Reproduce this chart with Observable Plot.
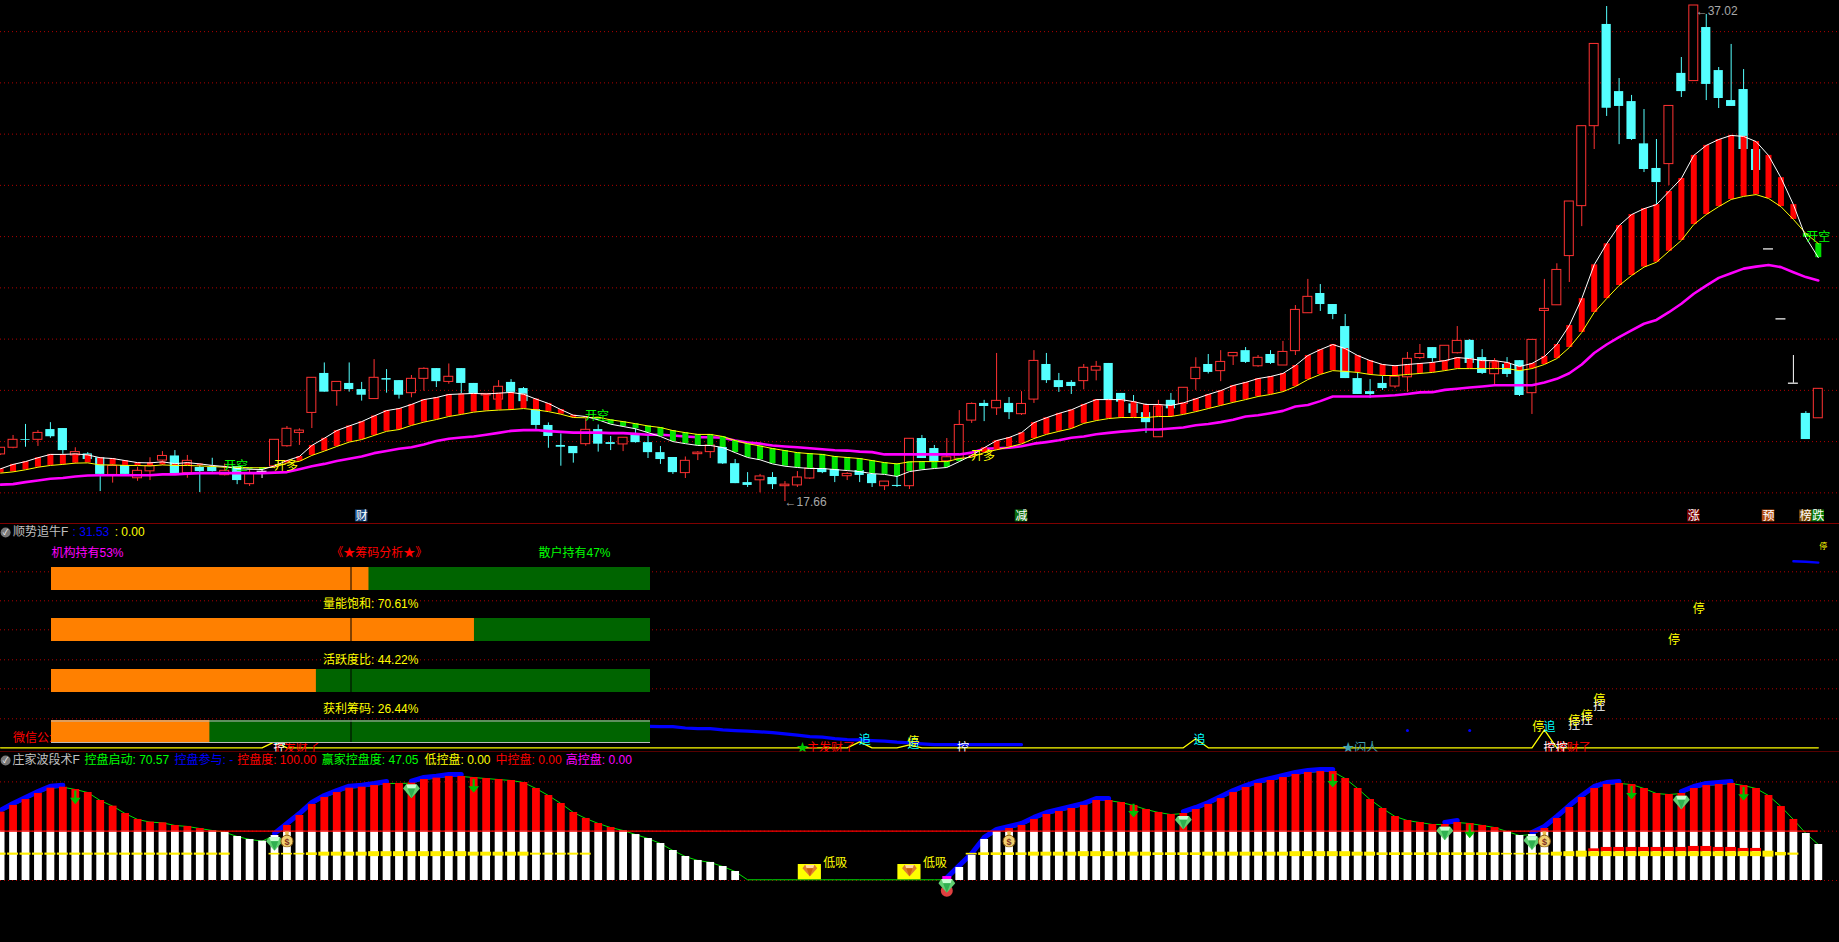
<!DOCTYPE html>
<html><head><meta charset="utf-8">
<style>html,body{margin:0;padding:0;background:#000;overflow:hidden}#chart{position:relative;width:1839px;height:942px;background:#000}#chart svg{position:absolute;left:0;display:block}</style>
<script src="https://cdn.jsdelivr.net/npm/d3@7"></script>
<script src="https://cdn.jsdelivr.net/npm/@observablehq/plot@0.6"></script>
</head><body><div id="chart"></div>
<script>
const opens=[19.50,19.76,20.08,20.07,20.47,20.51,19.46,19.52,19.37,18.70,
19.07,18.57,18.84,19.26,19.44,18.77,18.99,18.99,18.69,19.03,
18.34,18.84,19.03,19.82,20.34,21.12,22.66,21.97,22.27,22.03,
21.66,22.46,22.38,21.89,22.45,22.85,22.33,22.85,22.27,21.80,
21.64,22.31,22.07,21.25,20.63,19.85,19.81,19.90,20.47,19.96,
19.89,20.29,19.96,19.57,19.38,18.77,19.51,19.59,19.77,19.14,
18.40,18.49,18.60,18.26,18.29,18.56,18.95,18.91,18.65,18.87,
18.72,18.26,18.29,18.26,20.12,19.73,19.23,19.33,20.82,21.49,
21.30,21.49,21.07,21.64,23.01,22.38,22.31,22.36,22.77,23.05,
21.88,21.47,21.13,20.17,21.61,21.47,22.44,23.01,22.75,23.33,
23.55,22.94,23.40,22.97,23.53,25.01,25.78,25.35,24.49,22.46,
21.95,22.27,22.15,22.51,23.26,23.67,23.14,23.45,23.95,23.28,
22.63,23.01,23.16,21.89,25.10,25.32,27.24,29.19,32.31,36.28,
33.66,33.27,31.62,30.66,30.83,34.37,34.07,36.16,34.48,33.31,
33.74,31.40,27.52,24.79,22.28,21.10,20.91];
const closes=[19.76,20.07,20.05,20.34,20.19,19.65,19.59,19.30,18.72,19.05,
18.72,18.86,19.05,19.44,18.74,19.25,18.83,18.83,18.86,18.48,
18.74,18.84,20.07,20.50,20.43,22.49,21.93,22.33,22.03,21.81,
22.49,22.40,21.81,22.45,22.84,22.34,22.53,22.27,21.86,21.86,
22.14,21.92,21.56,20.63,20.20,19.78,19.53,20.46,19.90,19.89,
20.15,19.96,19.57,19.30,18.79,19.25,19.57,19.85,19.13,18.36,
18.29,18.64,18.32,18.32,18.60,18.95,18.79,18.64,18.74,18.68,
18.36,18.44,18.25,20.11,19.34,19.21,19.39,20.65,21.47,21.37,
21.59,21.13,21.47,23.15,22.38,22.11,22.15,22.88,22.92,21.61,
21.54,21.10,20.74,21.37,21.28,22.10,22.88,22.70,23.11,23.46,
23.09,23.27,23.05,23.50,25.14,25.65,25.35,24.96,22.46,21.84,
21.84,22.07,22.53,23.23,23.42,23.24,23.74,23.93,23.05,22.66,
23.09,22.62,21.80,23.97,25.18,26.70,29.37,32.31,35.52,33.01,
33.08,31.79,30.62,30.11,33.10,33.66,37.02,33.94,33.39,33.08,
31.40,30.58,27.52,24.79,22.28,20.08,22.06];
const highs=[19.76,20.24,20.67,20.43,20.74,20.51,19.76,19.57,19.37,19.11,
19.07,19.00,19.37,19.61,19.65,19.46,19.13,19.35,19.13,19.03,
18.94,18.94,20.07,20.59,20.50,22.49,23.07,22.33,23.07,22.31,
23.20,22.81,22.38,22.58,22.88,22.85,23.03,22.85,22.27,21.86,
22.38,22.42,22.11,21.67,20.73,20.30,19.81,20.89,20.65,20.20,
20.15,20.50,20.24,19.81,19.38,19.40,19.61,19.98,20.17,19.30,
18.79,18.72,18.79,18.44,18.83,19.52,18.95,19.07,18.79,18.95,
18.87,18.44,18.79,20.11,20.24,19.85,20.12,21.21,21.51,21.61,
23.44,21.72,21.95,23.55,23.44,22.66,22.38,23.01,23.13,23.05,
21.88,21.80,21.47,21.61,21.88,22.10,23.27,23.40,23.55,23.46,
23.67,23.36,23.55,23.91,25.31,26.33,26.13,25.35,24.96,22.70,
22.42,22.54,22.53,23.48,23.79,23.67,23.74,24.49,23.98,23.59,
23.24,23.28,23.16,23.97,26.33,26.94,29.37,32.31,35.52,36.98,
34.17,33.51,32.96,31.79,33.10,34.99,37.02,36.67,34.60,35.50,
34.52,31.40,27.52,24.79,23.36,21.17,22.06];
const lows=[19.46,19.72,19.78,19.81,20.13,19.50,19.13,19.20,18.05,18.38,
18.72,18.45,18.48,19.07,18.74,18.57,18.01,18.81,18.66,18.32,
18.25,18.56,18.94,19.78,19.85,20.51,21.93,21.38,21.93,21.58,
21.66,21.89,21.66,21.71,21.97,22.11,22.24,21.86,21.86,21.80,
21.64,21.86,21.56,20.43,19.74,19.04,19.16,19.82,19.59,19.65,
19.61,19.94,19.34,19.11,18.72,18.56,19.26,19.34,19.11,18.36,
18.21,18.00,18.13,17.66,18.21,18.52,18.75,18.40,18.48,18.40,
18.21,18.09,18.21,18.13,19.34,19.18,19.07,19.26,20.71,20.78,
21.02,20.86,21.02,21.49,22.27,21.92,21.84,22.02,22.37,21.61,
21.54,21.02,20.32,20.17,20.95,21.08,22.00,22.64,22.34,22.97,
23.05,22.90,23.01,22.97,23.36,25.01,25.08,24.76,22.46,21.84,
21.68,22.00,22.07,21.92,23.20,23.09,22.90,23.42,23.05,22.62,
22.19,22.50,21.76,21.06,23.32,25.32,26.21,28.39,31.40,32.69,
31.59,31.75,30.50,29.25,29.99,33.43,34.07,33.31,33.00,33.08,
31.40,30.58,27.52,24.79,22.28,20.08,20.91];
const fastLine=[18.94,19.11,19.22,19.37,19.50,19.50,19.52,19.48,19.37,19.34,
19.26,19.18,19.17,19.21,19.14,19.18,19.13,19.07,19.03,18.95,
18.92,18.91,19.05,19.26,19.42,19.85,20.13,20.43,20.61,20.78,
21.00,21.21,21.29,21.45,21.64,21.72,21.84,21.86,21.88,21.86,
21.89,21.92,21.85,21.66,21.49,21.25,21.03,20.98,20.85,20.68,
20.59,20.50,20.35,20.20,20.00,19.92,19.85,19.85,19.77,19.57,
19.38,19.29,19.13,19.04,18.99,18.95,18.95,18.91,18.87,18.83,
18.75,18.72,18.64,18.83,18.90,18.95,18.99,19.22,19.46,19.76,
20.04,20.16,20.35,20.74,20.93,21.10,21.24,21.45,21.64,21.64,
21.64,21.56,21.45,21.45,21.41,21.51,21.67,21.84,21.99,22.19,
22.31,22.46,22.54,22.66,22.97,23.36,23.59,23.79,23.63,23.36,
23.16,23.01,22.96,23.01,23.05,23.09,23.16,23.28,23.24,23.16,
23.16,23.09,22.93,23.05,23.32,23.79,24.53,25.58,26.90,27.72,
28.43,28.86,29.09,29.25,29.76,30.27,31.17,31.56,31.79,31.95,
31.91,31.71,31.17,30.30,29.25,27.97,27.18];
const slowLine=[18.77,18.82,18.90,19.00,19.07,19.11,19.16,19.17,19.09,19.09,
19.07,19.07,19.05,19.09,19.07,19.07,19.05,19.03,19.00,19.00,
18.98,18.98,19.00,19.16,19.23,19.46,19.63,19.81,19.98,20.08,
20.24,20.40,20.47,20.63,20.76,20.86,20.98,21.06,21.15,21.20,
21.23,21.25,21.29,21.24,21.17,21.07,20.94,20.93,20.95,20.85,
20.78,20.70,20.61,20.55,20.43,20.35,20.28,20.28,20.20,20.04,
19.92,19.83,19.73,19.65,19.57,19.53,19.50,19.42,19.38,19.34,
19.26,19.18,19.13,19.21,19.22,19.22,19.22,19.34,19.39,19.57,
19.68,19.79,19.91,20.12,20.28,20.40,20.51,20.71,20.82,20.90,
20.94,20.94,20.94,20.98,20.98,21.06,21.17,21.29,21.41,21.53,
21.64,21.76,21.84,21.95,22.15,22.42,22.62,22.77,22.74,22.70,
22.62,22.58,22.58,22.62,22.66,22.70,22.77,22.85,22.85,22.85,
22.85,22.85,22.77,22.85,23.01,23.24,23.67,24.26,25.04,25.58,
26.09,26.48,26.81,27.00,27.43,27.85,28.47,28.86,29.17,29.45,
29.57,29.64,29.49,29.17,28.67,28.12,27.73];
const lifeLine=[18.32,18.34,18.42,18.48,18.55,18.58,18.64,18.68,18.69,18.69,
18.69,18.69,18.69,18.72,18.72,18.75,18.77,18.77,18.77,18.77,
18.77,18.77,18.79,18.81,18.92,19.04,19.13,19.24,19.33,19.42,
19.55,19.63,19.72,19.78,19.89,20.02,20.11,20.16,20.20,20.27,
20.34,20.42,20.45,20.45,20.41,20.38,20.35,20.35,20.35,20.33,
20.33,20.30,20.27,20.27,20.24,20.20,20.17,20.17,20.15,20.04,
19.96,19.92,19.85,19.81,19.78,19.74,19.70,19.66,19.65,19.61,
19.59,19.50,19.50,19.50,19.50,19.50,19.50,19.50,19.57,19.72,
19.74,19.76,19.82,19.92,19.98,20.05,20.15,20.20,20.29,20.34,
20.39,20.43,20.47,20.47,20.51,20.55,20.64,20.69,20.76,20.85,
20.98,21.03,21.11,21.20,21.37,21.43,21.58,21.76,21.76,21.76,
21.76,21.78,21.81,21.86,21.92,21.93,22.02,22.06,22.11,22.15,
22.20,22.20,22.20,22.20,22.31,22.45,22.67,23.01,23.46,23.79,
24.08,24.34,24.60,24.75,25.05,25.38,25.77,26.09,26.39,26.57,
26.75,26.83,26.89,26.81,26.61,26.42,26.29];
const priceGrid=[18,20,22,24,26,28,30,32,34,36];
const openLabels=[["开空",18.9,19.03,"#00ff00"],["开多",22.93,19.04,"#ffff00"],["开空",47.9,20.98,"#00ff00"],["开多",78.9,19.43,"#ffff00"],["开空",146,27.98,"#00ff00"]];
const tagLabels=[["财",29,"#1a4a80"],["减",82,"#0b6b0b"],["涨",136,"#7a0000"],["预",142,"#b04a10"],["榜",145,"#7a4a00"],["跌",146,"#0a7a0a"]];
const extremes=[["←17.66",62.97,17.62],["←37.02",136.15,36.8]];

const gaugeNames=["机构持有","量能饱和","活跃度比","获利筹码"];
const gaugeValues=[53,70.61,44.22,26.44];
const trendYellow=Array.from({length:147},(_, i)=>({22:3,69:3,73:1.5,96:4.5,124:9})[i]||0);
const blueStart=52;
const blueValues=[10.7,10.6,10.6,9.9,9.6,9.6,9,8.6,8.3,8,7.6,7,6.3,5.6,5.3,4.6,4.1,4,3.6,3.3,2.8,2.5,2,1.6,1.6,1.6,1.6,1.6,1.6,1.6,1.6];
const blueTail=[[144,93.3],[145,93],[146,92.6]];
const blueDots=[[113,8.6],[118,8.6]];
const panelGrid=[14.5,29.5,44,59,73.5,88];
const signals=[["微信公众号: 股票公式",5.6,4.6,"#ff0000"],
["追",22.4,3.6,"#00ffff"],["主发财了",23.7,0,"#ff0000"],["控",22.4,0,"#ffffff"],
["★",64.4,0,"#00cc00"],["主发财了",66.7,0,"#ff0000"],["追",69.4,3.6,"#00ffff"],["追",73.3,2,"#00ffff"],["停",73.3,3,"#ffff00"],["控",77.3,0,"#ffffff"],
["追",96.3,3.6,"#00ffff"],["★闪人",109.2,0,"#40a0b0"],
["停",123.5,10.2,"#ffff00"],["追",124.4,10.2,"#00ffff"],["主发财了",125.8,0,"#ff0000"],["控",124.4,0,"#ffffff"],["控",125.4,0,"#ffffff"],
["控",126.4,11.2,"#ffffff"],["停",126.4,13.2,"#ffff00"],["控",127.4,13.7,"#ffffff"],["停",127.4,16,"#ffff00"],["控",128.4,21,"#ffffff"],["停",128.4,23.6,"#ffff00"],
["停",134.4,53.6,"#ffff00"],["停",136.4,69.2,"#ffff00"]];

const waveValues=[69.3,76.1,82.1,88.2,93.6,94.6,92.3,89.2,81.1,75.4,
67.9,61.9,59.2,58.5,55.8,54.8,52.7,50.7,49,44.6,
41.6,39.9,45.6,55.8,65.9,77.1,84.2,89.2,93.6,94.6,
96.3,98.4,98.4,98.7,102.4,103.8,105.5,105.5,104.4,103.4,
102.4,101.4,99.4,93.3,86.2,78.1,69,62.9,57.8,53.7,
50.7,46.6,42.6,37.5,30.4,24.3,20.3,18.3,14.2,9.1,
0.7,0.7,0.7,0.7,0.7,0.7,0.7,0.7,0.7,0.7,
0.7,0.7,0.7,0.7,0.7,0.7,0.7,13.2,25.4,41.6,
49.7,52.7,55.8,61.9,66.9,70,73,76.1,81.1,81.1,
79.1,76.1,72,69,66.9,67.9,72,77.1,83.1,89.2,
94.3,98.4,101.4,104.4,107.5,109.5,110.5,110.5,103.4,93.3,
82.1,73,64.9,60.8,58.8,56.8,56.8,58.8,57.8,55.8,
53.7,49.7,45.6,46.6,52.7,62.9,74,84.2,93.3,97.3,
98.4,97.3,93.3,88.2,87.2,88.2,93.3,96.3,97.3,98.4,
96.3,93.3,86.2,75,61.9,47.7,36.5];
const risingRanges=[[0,5],[22,31],[33,37],[76,89],[95,107],[116,117],[123,130],[135,139]];
const chipThickness=[2.2,2.2,2.2,2.2,2.2,2.2,2.2,2.2,2.2,2.2,
2.2,2.2,2.2,2.2,2.2,2.2,2.2,2.2,2.2,null,
null,null,1.7,1.7,1.7,2.7,4,4,4,4,
5,5,5,5,5,5,5,5,4,4,
4,4,4,2,2,2,2,2,null,null,
null,null,null,null,null,null,null,null,null,null,
null,null,null,null,null,null,null,null,null,null,
null,null,null,null,null,null,null,null,1.7,2.7,
2.7,2.7,2.7,4,4,4,4,5,5,5,
4,4,4,2.7,2.7,2.7,2.7,4,4,4,
4,4,4,4,5,5,5,5,5,4,
4,2.7,2.7,2.7,2.7,2.7,2.7,2.7,2.7,2.7,
2.7,1.7,1.7,1.7,2,4,5,6,5,5,
5,5,5,5,5,5,5,5,5,5,
5,5,6,3.5,2.2,null,null];
const chipCenter=26.7;
const lockTops={128:32.1,129:33.5,130:33.5,131:33.5,132:33.5,133:33.5,134:33.5,135:33.5,136:34.5,137:34.5,138:33.5,139:33.5,140:32.5,141:32.5};
const lockBase=29.4;
const arrowMarks=[[6,84.5],[33,90.2],[38,96],[91,71],[107,101.4],[118,50],[131,89.2],[140,87.9]];
const gemMarks=[[22,37.2],[33,90.6],[76,-5.4],[95,58.8],[116,47.7],[123,37.9],[135,79.1]];
const bagMarks=[[23,41.9],[81,41.9],[124,41.9]];
const dipMarks=[65,73];
const waveHeader=[["庄家波段术F",0.96,"#c0c0c0"],["控盘启动: 70.57",6.74,"#00ff00"],["控盘参与: -",13.97,"#0000ff"],["控盘度: 100.00",19,"#ff0000"],["赢家控盘度: 47.05",25.8,"#00ff00"],["低控盘: 0.00",34.05,"#ffff00"],["中控盘: 0.00",39.76,"#ff0000"],["高控盘: 0.00",45.4,"#ff00ff"]];
const trendHeader=[["顺势追牛F",1,"#c0c0c0"],[": 31.53",5.78,"#0000ff"],[": 0.00",9.16,"#ffff00"]];

const FONT='"Liberation Sans","Noto Sans CJK SC",sans-serif';
const GRID={stroke:"#b00000",strokeDasharray:"1 3",strokeWidth:1};
const xScale={domain:[0,147],range:[0.1,1830.25],axis:null};
const base={width:1839,marginLeft:0,marginRight:0,marginTop:0,marginBottom:0,style:{background:"transparent",fontFamily:FONT,fontSize:"12px"}};
const uri=s=>"data:image/svg+xml,"+encodeURIComponent(s);
const gem=(a,b,c)=>uri(`<svg xmlns="http://www.w3.org/2000/svg" viewBox="0 0 16 13"><path d="M3 0H13L16 4L8 13L0 4Z" fill="${a}"/><path d="M3 0H13L11.5 4H4.5Z" fill="${b}"/><path d="M4.5 4H11.5L8 13Z" fill="${c}"/></svg>`);
const gemGreen=gem("#60d070","#c8ffd0","#30b050");
const gemOrange=gem("#e08030","#ffd8a0","#d06010");
const bag=uri(`<svg xmlns="http://www.w3.org/2000/svg" viewBox="0 0 14 16"><path d="M5 0H9L8.5 4H5.5Z" fill="#e8c050"/><circle cx="7" cy="10" r="6" fill="#f0d070" stroke="#8a5a10"/><text x="7" y="13.5" font-size="9" font-weight="bold" text-anchor="middle" fill="#803020" font-family="Liberation Sans">$</text></svg>`);
const arrow=uri(`<svg xmlns="http://www.w3.org/2000/svg" viewBox="0 0 10 13"><path d="M4 0H6V7H10L5 13L0 7H4Z" fill="#00c000"/></svg>`);

const bars=d3.range(147).map(i=>({i,o:opens[i],c:closes[i],h:highs[i],l:lows[i],fast:fastLine[i],slow:slowLine[i],life:lifeLine[i],wave:waveValues[i],chip:chipThickness[i],lock:lockTops[i]}));
const up=bars.filter(d=>d.c>d.o),down=bars.filter(d=>d.c<d.o),flat=bars.filter(d=>d.c===d.o);
const txt=(rows,o)=>Plot.text(rows,{text:d=>d[0],x:d=>d[1],y:d=>d[2],fill:d=>d[3],fontSize:12,fontFamily:FONT,...o});
const chart=document.getElementById("chart");
const place=(svg,top)=>{svg.style.top=top+"px";chart.appendChild(svg);};

// price panel
place(Plot.plot({...base,height:524,style:{...base.style,background:"#000"},x:xScale,y:{domain:[16.765,37.215],range:[524,0],axis:null},marks:[
  Plot.ruleY(priceGrid,GRID),
  Plot.ruleX(up,{x:"i",y1:"l",y2:"h",stroke:"#ff3232",strokeWidth:1}),
  Plot.ruleX(down,{x:"i",y1:"l",y2:"h",stroke:"#54ffff",strokeWidth:1}),
  Plot.ruleX(flat,{x:"i",y1:"l",y2:"h",stroke:"#ffffff",strokeWidth:1}),
  Plot.rect(up,{x1:d=>d.i-.36,x2:d=>d.i+.36,y1:"o",y2:"c",fill:"#000",stroke:"#ff3232",strokeWidth:1}),
  Plot.rect(down,{x1:d=>d.i-.37,x2:d=>d.i+.37,y1:"o",y2:"c",fill:"#54ffff"}),
  Plot.ruleY(flat,{y:"c",x1:d=>d.i-.4,x2:d=>d.i+.4,stroke:"#fff",strokeWidth:1.2}),
  Plot.line(bars,{x:"i",y:"life",stroke:"#ff00ff",strokeWidth:2.6}),
  Plot.ruleX(bars.filter(d=>d.fast>=d.slow),{x:"i",y1:"slow",y2:"fast",stroke:"#ff0000",strokeWidth:6}),
  Plot.ruleX(bars.filter(d=>d.fast<d.slow),{x:"i",y1:"slow",y2:"fast",stroke:"#00e000",strokeWidth:6}),
  Plot.line(bars,{x:"i",y:"slow",stroke:"#ffff00",strokeWidth:1}),
  Plot.line(bars,{x:"i",y:"fast",stroke:"#ffffff",strokeWidth:1}),
  txt(openLabels,{}),
  txt(extremes,{fill:"#a8a8a8",textAnchor:"start"}),
  Plot.rect(tagLabels,{x1:d=>d[1]-.5,x2:d=>d[1]+.5,y1:17.33,y2:16.87,fill:d=>d[2]}),
  Plot.text(tagLabels,{text:d=>d[0],x:d=>d[1],y:17.095,fill:"#fff",fontSize:12,fontFamily:FONT}),
  Plot.ruleY([16.79],{stroke:"#aa0000",strokeWidth:1.2})
]}),0);

// indicator panel
const blueRows=blueValues.map((v,k)=>({i:blueStart+k,v}));
place(Plot.plot({...base,height:228,x:xScale,y:{domain:[-2.35,111.65],range:[228,0],axis:null},marks:[
  Plot.ruleY(panelGrid,GRID),
  Plot.line(blueRows,{x:"i",y:"v",stroke:"#0000ff",strokeWidth:3.2}),
  Plot.line(blueTail,{x:d=>d[0],y:d=>d[1],stroke:"#0000ff",strokeWidth:2.4}),
  Plot.dot(blueDots,{x:d=>d[0],y:d=>d[1],r:1.5,fill:"#0000ff"}),
  Plot.line(trendYellow,{x:(d,i)=>i,y:d=>d,stroke:"#ffff00",strokeWidth:1.3}),
  txt(signals,{}),
  Plot.text(["停"],{x:146.4,y:100.6,fill:"#ffff00",fontSize:8,fontFamily:FONT}),
  txt(trendHeader.map(d=>[d[0],d[1],107.65,d[2]]),{textAnchor:"start"}),
  Plot.dot([0],{x:.4,y:107.65,r:5,fill:"#777"}),
  Plot.text(["✓"],{x:.4,y:107.65,fill:"#fff",fontSize:8}),
  Plot.ruleY([-2.1],{stroke:"#aa0000",strokeWidth:1.2})
]}),524);

// gauges overlay
const gauges=gaugeNames.map((name,k)=>({name,value:gaugeValues[k]}));
const gaugeLabel=(s,x,name,dy,fill,anchor)=>Plot.text([s],{x:()=>x,y:()=>name,dy,fill,textAnchor:anchor,fontSize:12,fontFamily:FONT});
place(Plot.plot({...base,height:228,x:{domain:[0,100],range:[51,650],axis:null},y:{type:"band",domain:gaugeNames,range:[42,218.6],paddingInner:.557,paddingOuter:0,axis:null},marks:[
  Plot.barX(gauges,{x:()=>100,y:"name",fill:"#006400"}),
  Plot.barX(gauges,{x:"value",y:"name",fill:"#ff8000"}),
  Plot.tickX(gauges,{x:()=>50,y:"name",stroke:"#000",strokeWidth:1}),
  Plot.ruleY(gaugeNames.slice(3),{y:d=>d,x1:0,x2:100,dy:-11,stroke:"#bbb",strokeWidth:1}),
  Plot.ruleY(gaugeNames.slice(3),{y:d=>d,x1:0,x2:100,dy:10.5,stroke:"#bbb",strokeWidth:1}),
  gaugeLabel("机构持有53%",0,gaugeNames[0],-26,"#ff00ff","start"),
  gaugeLabel("《★筹码分析★》",54.7,gaugeNames[0],-26,"#ff0000","middle"),
  gaugeLabel("散户持有47%",81.3,gaugeNames[0],-26,"#00ff00","start"),
  gaugeLabel("量能饱和: 70.61%",53.3,gaugeNames[1],-26,"#ffff00","middle"),
  gaugeLabel("活跃度比: 44.22%",53.3,gaugeNames[2],-21,"#ffff00","middle"),
  gaugeLabel("获利筹码: 26.44%",53.3,gaugeNames[3],-23,"#ffff00","middle")
]}),524);

// wave panel
const rising=risingRanges.flatMap(([a,b],seg)=>d3.range(a,b+1).map(i=>({i,v:waveValues[i],seg})));
const visible=bars.filter(d=>d.wave>2);
place(Plot.plot({...base,height:190,x:xScale,y:{domain:[-62.9,129.8],range:[190,0],axis:null},marks:[
  Plot.ruleY([0,50,100],GRID),
  Plot.line(bars,{x:"i",y:"wave",stroke:"#00e000",strokeWidth:1}),
  Plot.line(rising,{x:"i",y:"v",z:"seg",stroke:"#0000ff",strokeWidth:5,dy:-2}),
  Plot.ruleX(visible.filter(d=>d.wave>50),{x:"i",y1:50,y2:"wave",stroke:"#ff0000",strokeWidth:7.8}),
  Plot.ruleX(visible,{x:"i",y1:0,y2:d=>Math.min(d.wave,50),stroke:"#ffffff",strokeWidth:7.8}),
  Plot.ruleX([76],{x:d=>d,y1:.5,y2:4,stroke:"#ff00ff",strokeWidth:9}),
  Plot.ruleY([50],{x1:0,x2:146,stroke:"#ff0000",strokeWidth:1.3}),
  Plot.rect(bars.filter(d=>d.lock!=null),{x1:d=>d.i-.44,x2:d=>d.i+.44,y1:lockBase,y2:"lock",fill:"#ff0000"}),
  Plot.rect(bars.filter(d=>d.chip!=null),{x1:d=>d.i-.44,x2:d=>d.i+.44,y1:d=>chipCenter-d.chip/2,y2:d=>chipCenter+d.chip/2,fill:"#ffee00"}),
  Plot.rect(dipMarks,{x1:d=>d-.93,x2:d=>d+.93,y1:.7,y2:16.2,fill:"#ffff00"}),
  Plot.image(dipMarks,{x:d=>d,y:10.1,src:()=>gemOrange,width:16,height:12}),
  Plot.text(dipMarks,{x:d=>d+2.05,y:17.9,text:()=>"低吸",fill:"#ffff00",fontSize:12,fontFamily:FONT}),
  Plot.dot([76],{x:d=>d,y:-10.5,r:6,fill:"#e04040"}),
  Plot.image(arrowMarks,{x:d=>d[0],y:d=>d[1],src:()=>arrow,width:11,height:14}),
  Plot.image(gemMarks,{x:d=>d[0],y:d=>d[1],src:()=>gemGreen,width:17,height:14}),
  Plot.image(bagMarks,{x:d=>d[0],y:d=>d[1],src:()=>bag,width:15,height:16}),
  txt(waveHeader.map(d=>[d[0],d[1],121.7,d[2]]),{textAnchor:"start"}),
  Plot.dot([0],{x:.4,y:121.7,r:5,fill:"#777"}),
  Plot.text(["✓"],{x:.4,y:121.7,fill:"#fff",fontSize:8})
]}),752);
</script></body></html>
